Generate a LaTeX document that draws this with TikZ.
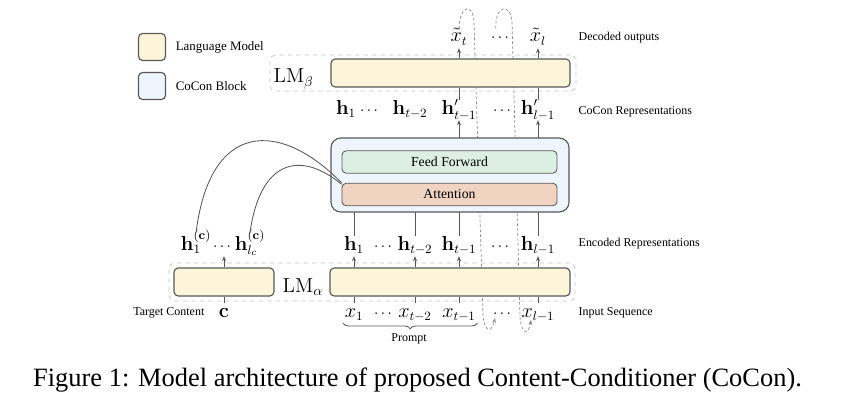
\documentclass[tikz,border=0pt]{standalone}
\usepackage[no-math]{fontspec}
\setmainfont{Liberation Serif}
\usetikzlibrary{arrows.meta,positioning,decorations.pathreplacing,backgrounds}
\definecolor{lmyellow}{RGB}{253,245,218}
\definecolor{coconblue}{RGB}{238,245,252}
\definecolor{ffgreen}{RGB}{221,239,226}
\definecolor{attred}{RGB}{241,211,193}
\definecolor{edgegray}{RGB}{88,88,88}
\definecolor{dashgray}{RGB}{140,140,140}
\definecolor{boxgray}{RGB}{195,195,195}

\begin{document}
\begin{tikzpicture}[x=0.025cm,y=-0.025cm,>={Stealth[length=3.5pt,width=2.8pt]},
  every node/.style={inner sep=1pt},
  lab/.style={font=\fontsize{8.5}{10}\selectfont},
  legtext/.style={font=\fontsize{9.2}{11}\selectfont},
  mlab/.style={font=\fontsize{13.5}{15}\selectfont,text height=8.5pt,text depth=3.2pt,anchor=base},
  dots/.style={mlab,font=\fontsize{10.5}{12}\selectfont},
  lmname/.style={font=\fontsize{14}{16}\selectfont,anchor=base west},
  lmbox/.style={draw=edgegray,line width=0.8pt,rounded corners=3pt,fill=lmyellow,minimum height=0.7cm},
  cocon/.style={draw=edgegray,line width=0.8pt,rounded corners=7pt,fill=coconblue},
  inbox/.style={draw=edgegray,line width=0.6pt,rounded corners=3pt,minimum width=5.375cm,minimum height=0.56cm,font=\fontsize{9.8}{12}\selectfont},
  lmgroup/.style={draw=boxgray,dashed,rounded corners=4pt,line width=0.5pt},
  link/.style={draw=edgegray,line width=0.6pt},
  feedback/.style={draw=dashgray,line width=0.5pt,dash pattern=on 2pt off 1.5pt}]
\useasboundingbox (0,0) rectangle (845,413);

% legend
\node[lmbox,minimum width=0.675cm,minimum height=0.675cm] (k1) at (152,47) {};
\node[legtext,right=0.2cm of k1] (k1t) {Language Model};
\node[lmbox,fill=coconblue,minimum width=0.675cm,minimum height=0.675cm] (k2) at (152,86) {};
\node[legtext,right=0.2cm of k2] (k2t) {CoCon Block};

% decoded outputs
\node[mlab] (xt) at (459,42) {$\tilde{x}_t$};
\node[dots] (xd) at (500,42) {$\cdots$};
\node[mlab] (xl) at (538,42) {$\tilde{x}_l$};

% LM beta
\node[lmgroup,minimum width=7.65cm,minimum height=0.9cm] (gb) at (423,73) {};
\node[lmbox,minimum width=5.975cm] (lmb) at (450.5,73) {};
\node[lmname] (nb) at (272,83) {$\mathrm{LM}_\beta$};

% CoCon representations
\node[mlab] (p1) at (346,114) {$\mathbf{h}_1$};
\node[dots] (pd1) at (369,114) {$\cdots$};
\node[mlab] (p2) at (410,114) {$\mathbf{h}_{t-2}$};
\node[mlab] (p3) at (459,114) {$\mathbf{h}'_{t-1}$};
\node[dots] (pd2) at (502,114) {$\cdots$};
\node[mlab] (p4) at (538,114) {$\mathbf{h}'_{l-1}$};

% CoCon block
\node[cocon,minimum width=5.95cm,minimum height=1.85cm] (cb) at (450,175) {};
\node[inbox,fill=ffgreen] (ff) at (449.5,162) {Feed Forward};
\node[inbox,fill=attred] (att) at (449.5,194.5) {Attention};

% encoded representations
\node[mlab] (e1) at (354,250) {$\mathbf{h}_1$};
\node[dots] (ed1) at (383,250) {$\cdots$};
\node[mlab] (e2) at (415,250) {$\mathbf{h}_{t-2}$};
\node[mlab] (e3) at (459,250) {$\mathbf{h}_{t-1}$};
\node[dots] (ed2) at (500,250) {$\cdots$};
\node[mlab] (e4) at (538,250) {$\mathbf{h}_{l-1}$};
\node[mlab,text height=11pt] (c1) at (196,250) {$\mathbf{h}^{\mathbf{(c)}}_1$};
\node[dots] (cd) at (222,250) {$\cdots$};
\node[mlab,text height=11pt] (c2) at (250,250) {$\mathbf{h}^{\mathbf{(c)}}_{l_c}$};

% LM alpha
\node[lmgroup,minimum width=10.15cm,minimum height=0.95cm] (ga) at (372,282) {};
\node[lmbox,minimum width=2.5cm] (lml) at (224,282) {};
\node[lmbox,minimum width=6cm] (lmr) at (450,282) {};
\node[lmname] (na) at (281,292) {$\mathrm{LM}_\alpha$};

% inputs
\node[mlab] (cc) at (224,317) {$\mathbf{c}$};
\node[lab,anchor=base east] (tc) at (206,315) {Target Content};
\node[mlab] (i1) at (354,317) {$x_1$};
\node[dots] (id1) at (383,317) {$\cdots$};
\node[mlab] (i2) at (415,317) {$x_{t-2}$};
\node[mlab] (i3) at (459,317) {$x_{t-1}$};
\node[dots] (id2) at (502,317) {$\cdots$};
\node[mlab] (i4) at (538,317) {$x_{l-1}$};
\node[lab] (pr) at (409,339) {Prompt};

% row labels
\node[lab,anchor=base west] (r1) at (577,41) {Decoded outputs};
\node[lab,anchor=base west] (r2) at (577,114) {CoCon Representations};
\node[lab,anchor=base west] (r3) at (577,246) {Encoded Representations};
\node[lab,anchor=base west] (r4) at (577,315) {Input Sequence};

\node[font=\fontsize{18.8}{22}\selectfont,anchor=base] (cap) at (417.5,386) {Figure 1: Model architecture of proposed Content-Conditioner (CoCon).};

% connectors
\draw[link,->] (lmb.north -| xt) -- (xt.south);
\draw[link,->] (lmb.north -| xl) -- (xl.south);
\draw[link] (p3.north) -- (p3.north |- lmb.south);
\draw[link] (p4.north) -- (p4.north |- lmb.south);
\foreach \n in {e1,e2,e3,e4}
  \draw[link,->] (lmr.north -| \n) -- (\n.south);
\draw[link,->] (lml.north) -- (lml.north |- cd.south);
\draw[link] (cc.north) -- (lml.south);
\foreach \n in {i1,i2,i3,i4}
  \draw[link] (\n.north) -- (\n.north |- lmr.south);
\draw[link] (c1.north) .. controls (210,120) and (280,120) .. (att.north west);
\draw[link] (c2.north) .. controls (260,160) and (300,150) .. ([yshift=-1pt]att.north west);
\draw[link,decorate,decoration={brace,mirror,amplitude=4pt}] (i1.south west) -- (i3.south east);

\begin{scope}[on background layer]
\draw[link] (e1.north) -- (e1.north |- att.south);
\draw[link] (e2.north) -- (e2.north |- att.south);
\draw[link,->] (e3.north) -- (p3.south);
\draw[link,->] (e4.north) -- (p4.south);
% generated tokens fed back as inputs
\coordinate (fb1) at (495,318);
\coordinate (fb2) at (531,320);
\draw[feedback,->] (xt.north) .. controls (460,5) and (473,2) .. (474,22)
  -- (483,316) .. controls (485,334) and (492,332) .. (fb1);
\draw[feedback,->] ([xshift=-3pt]xd.north) .. controls (495,4) and (511,3) .. (512,22)
  -- (520,318) .. controls (522,336) and (529,334) .. (fb2);
\end{scope}
\end{tikzpicture}
\end{document}
